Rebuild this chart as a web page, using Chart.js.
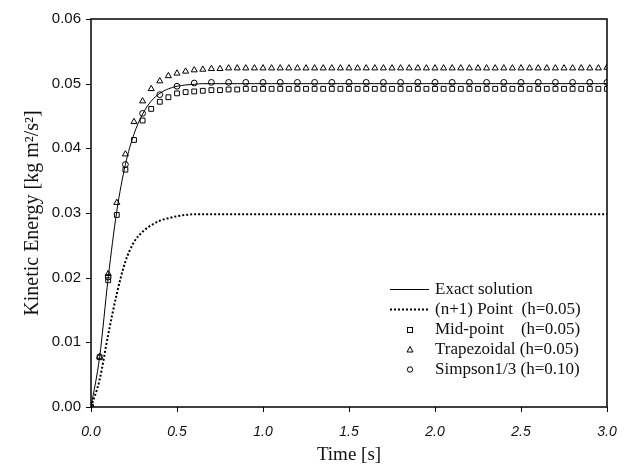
<!DOCTYPE html>
<html>
<head>
<meta charset="utf-8">
<script src="https://cdn.jsdelivr.net/npm/chart.js@4.4.1/dist/chart.umd.min.js"></script>
<style>
  html, body { margin:0; padding:0; background:#fff; }
  #wrap { position:relative; width:635px; height:469px; }
  #legend {
    position:absolute; left:389px; top:279px;
    font-family:"Liberation Serif", "Times New Roman", serif; font-size:17px; color:#111;
  }
  #legend .row { display:flex; align-items:center; height:20px; white-space:pre; }
  #legend svg { width:42px; height:20px; margin-right:4px; flex:none; }
</style>
</head>
<body>
<div id="wrap">
  <canvas id="c" width="635" height="469"></canvas>
  <div id="legend">
    <div class="row"><svg viewBox="0 0 42 20"><line x1="1" y1="10.5" x2="40" y2="10.5" stroke="#000" stroke-width="1"/></svg>Exact solution</div>
    <div class="row"><svg viewBox="0 0 42 20"><line x1="1" y1="10.5" x2="40" y2="10.5" stroke="#000" stroke-width="2" stroke-dasharray="2 2"/></svg>(n+1) Point  (h=0.05)</div>
    <div class="row"><svg viewBox="0 0 42 20"><rect x="18.5" y="8.5" width="5" height="5" fill="none" stroke="#000" stroke-width="1"/></svg>Mid-point    (h=0.05)</div>
    <div class="row"><svg viewBox="0 0 42 20"><polygon points="21,7.5 24,13 18,13" fill="none" stroke="#000" stroke-width="1"/></svg>Trapezoidal (h=0.05)</div>
    <div class="row"><svg viewBox="0 0 42 20"><circle cx="21" cy="10.5" r="2.7" fill="none" stroke="#000" stroke-width="1"/></svg>Simpson1/3 (h=0.10)</div>
  </div>
</div>
<script>
// временная сетка (шаг 0.05 и 0.10)
const tFine = [0.00,0.05,0.10,0.15,0.20,0.25,0.30,0.35,0.40,0.45,0.50,0.55,0.60,0.65,0.70,0.75,0.80,0.85,0.90,0.95,
  1.00,1.05,1.10,1.15,1.20,1.25,1.30,1.35,1.40,1.45,1.50,1.55,1.60,1.65,1.70,1.75,1.80,1.85,1.90,1.95,
  2.00,2.05,2.10,2.15,2.20,2.25,2.30,2.35,2.40,2.45,2.50,2.55,2.60,2.65,2.70,2.75,2.80,2.85,2.90,2.95,3.00];
const tCoarse = [0.0,0.1,0.2,0.3,0.4,0.5,0.6,0.7,0.8,0.9,1.0,1.1,1.2,1.3,1.4,1.5,1.6,1.7,1.8,1.9,
  2.0,2.1,2.2,2.3,2.4,2.5,2.6,2.7,2.8,2.9,3.0];

// значения
const keExact = [0,0.0077,0.0200,0.0303,0.0375,0.0422,0.0453,0.0473,0.0485,0.0492,0.0496,0.0498,0.0499,0.0500,
  0.0500,0.0500,0.0500,0.0500,0.0500,0.0500,0.0500,0.0500,0.0500,0.0500,0.0500,0.0500,0.0500,0.0500,0.0500,0.0500,
  0.0500,0.0500,0.0500,0.0500,0.0500,0.0500,0.0500,0.0500,0.0500,0.0500,0.0500,0.0500,0.0500,0.0500,0.0500,0.0500,
  0.0500,0.0500,0.0500,0.0500,0.0500,0.0500,0.0500,0.0500,0.0500,0.0500,0.0500,0.0500,0.0500,0.0500,0.0500];
const keNPoint = [0,0.0042,0.0112,0.0175,0.0225,0.0255,0.0271,0.0281,0.0288,0.0292,0.0295,0.0297,0.0298,0.0298,
  0.0298,0.0298,0.0298,0.0298,0.0298,0.0298,0.0298,0.0298,0.0298,0.0298,0.0298,0.0298,0.0298,0.0298,0.0298,0.0298,
  0.0298,0.0298,0.0298,0.0298,0.0298,0.0298,0.0298,0.0298,0.0298,0.0298,0.0298,0.0298,0.0298,0.0298,0.0298,0.0298,
  0.0298,0.0298,0.0298,0.0298,0.0298,0.0298,0.0298,0.0298,0.0298,0.0298,0.0298,0.0298,0.0298,0.0298,0.0298];
const keMid = [0,0.0077,0.0196,0.0297,0.0367,0.0413,0.0443,0.0461,0.0472,0.0479,0.0485,0.0487,0.0488,0.0489,
  0.0490,0.0490,0.0491,0.0491,0.0492,0.0492,0.0492,0.0492,0.0492,0.0492,0.0492,0.0492,0.0492,0.0492,0.0492,0.0492,
  0.0492,0.0492,0.0492,0.0492,0.0492,0.0492,0.0492,0.0492,0.0492,0.0492,0.0492,0.0492,0.0492,0.0492,0.0492,0.0492,
  0.0492,0.0492,0.0492,0.0492,0.0492,0.0492,0.0492,0.0492,0.0492,0.0492,0.0492,0.0492,0.0492,0.0492,0.0492];
const keTrap = [0,0.0078,0.0206,0.0316,0.0391,0.0441,0.0473,0.0492,0.0504,0.0512,0.0516,0.0519,0.0521,0.0522,
  0.0523,0.0523,0.0524,0.0524,0.0524,0.0524,0.0524,0.0524,0.0524,0.0524,0.0524,0.0524,0.0524,0.0524,0.0524,0.0524,
  0.0524,0.0524,0.0524,0.0524,0.0524,0.0524,0.0524,0.0524,0.0524,0.0524,0.0524,0.0524,0.0524,0.0524,0.0524,0.0524,
  0.0524,0.0524,0.0524,0.0524,0.0524,0.0524,0.0524,0.0524,0.0524,0.0524,0.0524,0.0524,0.0524,0.0524,0.0525];
const keSimp = [0,0.0201,0.0375,0.0454,0.0483,0.0496,0.0501,0.0502,0.0502,0.0502,0.0502,0.0502,0.0502,0.0502,
  0.0502,0.0502,0.0502,0.0502,0.0502,0.0502,0.0502,0.0502,0.0502,0.0502,0.0502,0.0502,0.0502,0.0502,0.0502,0.0502,0.0502];

const xTicks = [0.0,0.5,1.0,1.5,2.0,2.5,3.0];
const yTicks = [0.00,0.01,0.02,0.03,0.04,0.05,0.06];

const pts = (xs, ys) => xs.map((x, i) => ({ x, y: ys[i] }));

// рамка + наружные засечки
const frame = {
  id: 'frame',
  afterDraw(chart) {
    const { ctx, chartArea: a, scales: { x, y } } = chart;
    ctx.save();
    ctx.strokeStyle = '#000';
    ctx.lineWidth = 1.5;
    ctx.strokeRect(a.left, a.top, a.right - a.left, a.bottom - a.top);
    ctx.lineWidth = 1;
    ctx.beginPath();
    xTicks.forEach(v => { const px = Math.round(x.getPixelForValue(v)) + 0.5; ctx.moveTo(px, a.bottom); ctx.lineTo(px, a.bottom + 5); });
    yTicks.forEach(v => { const py = Math.round(y.getPixelForValue(v)) + 0.5; ctx.moveTo(a.left, py); ctx.lineTo(a.left - 5, py); });
    ctx.stroke();
    ctx.restore();
  }
};

const hollow = 'rgba(0,0,0,0)';

new Chart(document.getElementById('c'), {
  type: 'line',
  data: {
    datasets: [
      { label: 'Exact solution', data: pts(tFine, keExact), borderColor: '#000', borderWidth: 1,
        pointRadius: 0, cubicInterpolationMode: 'monotone', order: 5 },
      { label: '(n+1) Point (h=0.05)', data: pts(tFine, keNPoint), borderColor: '#000', borderWidth: 2,
        borderDash: [2, 2], borderCapStyle: 'butt', pointRadius: 0, cubicInterpolationMode: 'monotone', order: 4 },
      { label: 'Mid-point (h=0.05)', data: pts(tFine, keMid), showLine: false, pointStyle: 'rect',
        pointRadius: 3.4, borderColor: '#000', borderWidth: 1, backgroundColor: hollow },
      { label: 'Trapezoidal (h=0.05)', data: pts(tFine, keTrap), showLine: false, pointStyle: 'triangle',
        pointRadius: 3.5, borderColor: '#000', borderWidth: 1, backgroundColor: hollow },
      { label: 'Simpson1/3 (h=0.10)', data: pts(tCoarse, keSimp), showLine: false, pointStyle: 'circle',
        pointRadius: 2.9, borderColor: '#000', borderWidth: 1, backgroundColor: hollow }
    ]
  },
  options: {
    responsive: false,
    animation: false,
    layout: { padding: { top: 15, right: 28, left: 0, bottom: 0 } },
    plugins: { legend: { display: false }, tooltip: { enabled: false } },
    scales: {
      x: {
        type: 'linear', min: 0, max: 3,
        afterFit: s => { s.height = 62; },
        afterBuildTicks: s => { s.ticks = xTicks.map(v => ({ value: v })); },
        grid: { display: false, drawTicks: false },
        border: { display: false },
        ticks: { color: '#111', padding: 17, font: { family: 'Liberation Sans', size: 14, style: 'italic' },
          callback: v => v.toFixed(1) },
        title: { display: true, text: 'Time [s]', color: '#111', padding: { top: 0, bottom: 3 },
          font: { family: 'Liberation Serif', size: 19 } }
      },
      y: {
        min: 0, max: 0.06,
        afterFit: s => { s.width = 91; },
        afterBuildTicks: s => { s.ticks = yTicks.map(v => ({ value: v })); },
        grid: { display: false, drawTicks: false },
        border: { display: false },
        ticks: { color: '#111', padding: 10, font: { family: 'Liberation Sans', size: 15 },
          callback: v => v.toFixed(2) },
        title: { display: true, text: 'Kinetic Energy [kg m²/s²]', color: '#111', padding: { top: 21, bottom: 0 },
          font: { family: 'Liberation Serif', size: 20 } }
      }
    }
  },
  plugins: [frame]
});
</script>
</body>
</html>
